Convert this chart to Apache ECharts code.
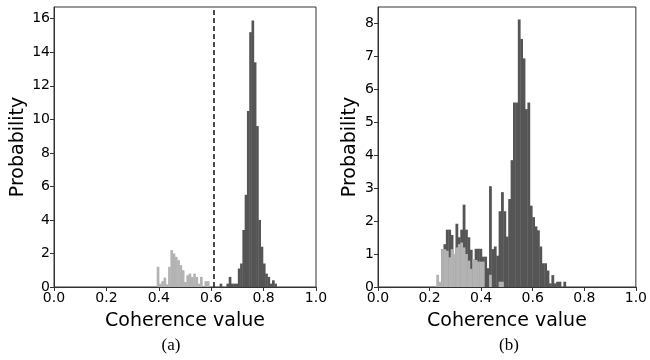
<!DOCTYPE html>
<html>
<head>
<meta charset="utf-8">
<script src="https://cdn.jsdelivr.net/npm/echarts@6/dist/echarts.min.js"></script>
<style>
  html, body { margin: 0; padding: 0; background: #fff; }
  #chart { width: 650px; height: 360px; }
</style>
</head>
<body>
<div id="chart"></div>
<script>
// histogram (a): bin start, bin width, heights
const leftBinWidth = 0.0087
const leftLightStart = 0.392
const leftLight = [1.2, 0.2, 0.35, 0.56, 0.16, 1.2, 2.2, 2.0, 1.8, 1.6, 1.3, 1.0, 0.3, 0.7, 0.8, 0.6, 0.8, 0.6, 0.2, 0.6, 0, 0.35, 0.35]
const leftDarkStart = 0.632
const leftDark = [0.2, 0, 0, 0.2, 0.6, 0.2, 0.2, 0.2, 1.1, 1.4, 3.4, 5.5, 10.5, 15.2, 15.9, 13.4, 9.6, 4.0, 2.4, 1.4, 0.8, 0.6, 0.2, 0.4, 0.2]
const threshold = 0.608

// histogram (b)
const rightBinWidth = 0.0093
const rightStart = 0.226
const rightLight = [0.37, 0.16, 1.15, 1.15, 1.1, 0.9, 1.15, 1.0, 1.2, 1.3, 1.35, 1.2, 1.0, 0.8, 0.55, 0.85, 0.82, 0.77, 0.77, 0.77, 0, 0, 0.37, 0, 0, 0, 0.16, 0.16]
const rightDark = [0, 0, 1.15, 1.3, 1.74, 1.74, 1.58, 0.92, 1.92, 1.51, 1.74, 2.5, 1.74, 1.51, 1.13, 0.72, 1.16, 1.16, 1.16, 0.92, 0.92, 0.57, 3.06, 1.15, 1.23, 0.95, 2.3, 2.88, 2.3, 1.53, 2.67, 3.85, 5.6, 5.6, 8.12, 7.53, 6.94, 5.4, 5.6, 2.47, 2.12, 1.84, 1.72, 1.23, 0.72, 0.72, 0.5, 0.11, 0.36, 0.11, 0.16, 0.16, 0, 0.16]

const leftYTicks = [0, 2, 4, 6, 8, 10, 12, 14, 16]
const rightYTicks = [0, 1, 2, 3, 4, 5, 6, 7, 8]

const darkColor = '#555555'
const lightColor = '#b3b3b3'
const fontMain = 'DejaVu Sans'

function toBins(start, width, heights) {
  return heights.map((h, i) => [start + i * width, start + (i + 1) * width, h])
}

function renderBar(params, api) {
  const top = api.coord([api.value(0), api.value(2)])
  const bottom = api.coord([api.value(1), 0])
  return {
    type: 'rect',
    shape: { x: top[0], y: top[1], width: bottom[0] - top[0] + 0.4, height: bottom[1] - top[1] },
    style: { fill: api.visual('color') }
  }
}

function xAxisFor(gridIndex) {
  return {
    type: 'value',
    gridIndex: gridIndex,
    min: 0,
    max: 1,
    interval: 0.2,
    name: 'Coherence value',
    nameLocation: 'middle',
    nameGap: 25,
    nameTextStyle: { fontFamily: fontMain, fontSize: 19, color: '#000' },
    splitLine: { show: false },
    axisLine: { lineStyle: { color: '#333', width: 1 } },
    axisTick: { inside: false, length: 4, lineStyle: { color: '#333' } },
    axisLabel: {
      fontFamily: fontMain, fontSize: 14, color: '#000', margin: 4,
      formatter: v => v.toFixed(1)
    }
  }
}

function yAxisFor(gridIndex, max, ticks, gap) {
  return {
    type: 'value',
    gridIndex: gridIndex,
    min: 0,
    max: max,
    name: 'Probability',
    nameLocation: 'middle',
    nameGap: gap,
    nameTextStyle: { fontFamily: fontMain, fontSize: 19, color: '#000' },
    splitLine: { show: false },
    axisLine: { show: true, lineStyle: { color: '#333', width: 1 } },
    axisTick: { show: true, length: 4, customValues: ticks, lineStyle: { color: '#333' } },
    axisLabel: { fontFamily: fontMain, fontSize: 14, color: '#000', margin: 4, customValues: ticks }
  }
}

const option = {
  animation: false,
  backgroundColor: '#fff',
  grid: [
    { left: 54, top: 7, width: 262, height: 280, show: true, borderColor: '#333', borderWidth: 1 },
    { left: 378, top: 7, width: 262, height: 280, show: true, borderColor: '#333', borderWidth: 1 }
  ],
  xAxis: [xAxisFor(0), xAxisFor(1)],
  yAxis: [
    yAxisFor(0, 16.7, leftYTicks, 26),
    yAxisFor(1, 8.5, rightYTicks, 18)
  ],
  graphic: [
    { type: 'text', x: 171, y: 346, style: { text: '(a)', align: 'center', verticalAlign: 'middle', fontFamily: 'Liberation Serif', fontSize: 17, fill: '#000' } },
    { type: 'text', x: 509, y: 346, style: { text: '(b)', align: 'center', verticalAlign: 'middle', fontFamily: 'Liberation Serif', fontSize: 17, fill: '#000' } }
  ],
  series: [
    {
      name: 'dark a', type: 'custom', xAxisIndex: 0, yAxisIndex: 0,
      itemStyle: { color: darkColor }, renderItem: renderBar,
      encode: { x: [0, 1], y: 2 },
      data: toBins(leftDarkStart, leftBinWidth, leftDark)
    },
    {
      name: 'light a', type: 'custom', xAxisIndex: 0, yAxisIndex: 0,
      itemStyle: { color: lightColor }, renderItem: renderBar,
      encode: { x: [0, 1], y: 2 },
      data: toBins(leftLightStart, leftBinWidth, leftLight),
      markLine: {
        silent: true, symbol: 'none', label: { show: false },
        lineStyle: { color: '#111', type: [5, 3], width: 1.5 },
        data: [{ xAxis: threshold }]
      }
    },
    {
      name: 'dark b', type: 'custom', xAxisIndex: 1, yAxisIndex: 1,
      itemStyle: { color: darkColor }, renderItem: renderBar,
      encode: { x: [0, 1], y: 2 },
      data: toBins(rightStart, rightBinWidth, rightDark)
    },
    {
      name: 'light b', type: 'custom', xAxisIndex: 1, yAxisIndex: 1,
      itemStyle: { color: lightColor }, renderItem: renderBar,
      encode: { x: [0, 1], y: 2 },
      data: toBins(rightStart, rightBinWidth, rightLight)
    }
  ]
}

const myChart = echarts.init(document.getElementById('chart'))
myChart.setOption(option, true)
</script>
</body>
</html>
